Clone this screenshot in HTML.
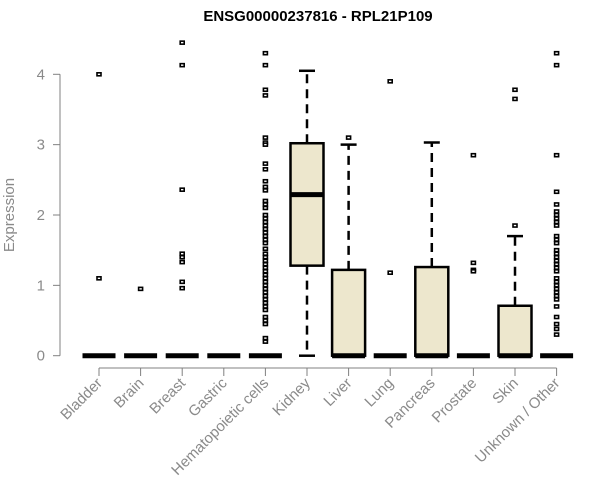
<!DOCTYPE html>
<html><head><meta charset="utf-8"><style>
html,body{margin:0;padding:0;background:#fff}
svg{display:block}
text{font-family:"Liberation Sans",sans-serif}
</style></head><body>
<svg id="chart" width="600" height="500" xmlns="http://www.w3.org/2000/svg">
<text x="318" y="21" text-anchor="middle" font-weight="bold" font-size="15" fill="#000">ENSG00000237816 - RPL21P109</text>
<text transform="translate(14,215) rotate(-90)" text-anchor="middle" font-size="15" fill="#8a8a8a">Expression</text>
<g id="yaxis"></g>
<g id="xaxis"></g>
<g id="plot"></g>
</svg>
<script>
const categories=["Bladder","Brain","Breast","Gastric","Hematopoietic cells","Kidney","Liver","Lung","Pancreas","Prostate","Skin","Unknown / Other"];
// [whiskerLow, q1, median, q3, whiskerHigh]
const stats=[[0,0,0,0,0],[0,0,0,0,0],[0,0,0,0,0],[0,0,0,0,0],[0,0,0,0,0],[0,1.28,2.29,3.02,4.05],[0,0,0,1.22,3.0],[0,0,0,0,0],[0,0,0,1.26,3.03],[0,0,0,0,0],[0,0,0,0.71,1.7],[0,0,0,0,0]];
const outliers=[[4.0,1.1],[0.95],[4.45,4.13,2.36,1.45,1.4,1.33,1.05,0.96],[],
[4.3,4.13,3.78,3.7,3.1,3.03,3.0,2.73,2.65,2.48,2.4,2.35,2.2,2.15,2.1,2.0,1.95,1.9,1.85,1.8,1.75,1.7,1.65,1.6,1.52,1.45,1.4,1.35,1.3,1.25,1.2,1.15,1.1,1.05,1.0,0.95,0.9,0.85,0.8,0.75,0.7,0.65,0.55,0.5,0.45,0.25,0.2],
[],[3.1],[3.9,1.18],[],[2.85,1.32,1.22,1.2],[3.78,3.65,1.85],
[4.3,4.13,2.85,2.33,2.15,2.05,2.0,1.95,1.9,1.85,1.7,1.65,1.6,1.5,1.45,1.4,1.35,1.3,1.25,1.2,1.1,1.05,1.0,0.95,0.9,0.85,0.8,0.7,0.55,0.45,0.38,0.3]];
const yTicks=[0,1,2,3,4];
const NS="http://www.w3.org/2000/svg";
const X=i=>99+41.6*i;
const Y=v=>355.7-70.35*v;
function mk(tag,attrs,parent){const e=document.createElementNS(NS,tag);for(const k in attrs)e.setAttribute(k,attrs[k]);parent.appendChild(e);return e;}
const ya=document.getElementById('yaxis'),xa=document.getElementById('xaxis'),pl=document.getElementById('plot');
const gc="#808080";
let l=mk('line',{x1:60,x2:60,y1:Y(0),y2:Y(4),stroke:gc},ya);


yTicks.forEach(t=>{
 const tk=mk('line',{x1:53,x2:60,y1:Y(t),y2:Y(t),stroke:gc},ya);
 
 
 const tx=mk('text',{x:45,y:Y(t)+5,'text-anchor':'end','font-size':15,fill:'#8a8a8a'},ya);
 tx.textContent=t;
 
 
});
l=mk('line',{x1:X(0),x2:X(categories.length-1),y1:368,y2:368,stroke:gc},xa);


categories.forEach((c,i)=>{
 const x=X(i);
 const tk=mk('line',{x1:x,x2:x,y1:368,y2:376,stroke:gc},xa);
 
 
 const tx=mk('text',{transform:`translate(${x+4},${384}) rotate(-45)`,'text-anchor':'end','font-size':15,fill:'#8a8a8a'},xa);
 tx.textContent=c;
 
 
 const g=mk('g',{},pl);
 
 
 const s=stats[i],hw=16.5;
 if(s[4]>s[3]){
  mk('line',{x1:x,x2:x,y1:Y(s[3]),y2:Y(s[4]),stroke:'#000','stroke-width':2.5,'stroke-dasharray':'9,6'},g);
  mk('line',{x1:x-8,x2:x+8,y1:Y(s[4]),y2:Y(s[4]),stroke:'#000','stroke-width':2.5},g);
 }
 if(s[1]>s[0]){
  mk('line',{x1:x,x2:x,y1:Y(s[1]),y2:Y(s[0]),stroke:'#000','stroke-width':2.5,'stroke-dasharray':'9,6'},g);
  mk('line',{x1:x-8,x2:x+8,y1:Y(s[0]),y2:Y(s[0]),stroke:'#000','stroke-width':2.5},g);
 }
 if(s[3]>s[1]) mk('rect',{x:x-hw,y:Y(s[3]),width:2*hw,height:Y(s[1])-Y(s[3]),fill:'#ede7cd',stroke:'#000','stroke-width':2.5},g);
 mk('line',{x1:x-hw,x2:x+hw,y1:Y(s[2]),y2:Y(s[2]),stroke:'#000','stroke-width':5},g);
 outliers[i].forEach(v=>{
  const p=mk('rect',{x:x-2,y:Y(v)-1.5,width:4,height:3,fill:'#fff',stroke:'#000','stroke-width':1.6},g);
  
  
 });
});
</script>
</body></html>
